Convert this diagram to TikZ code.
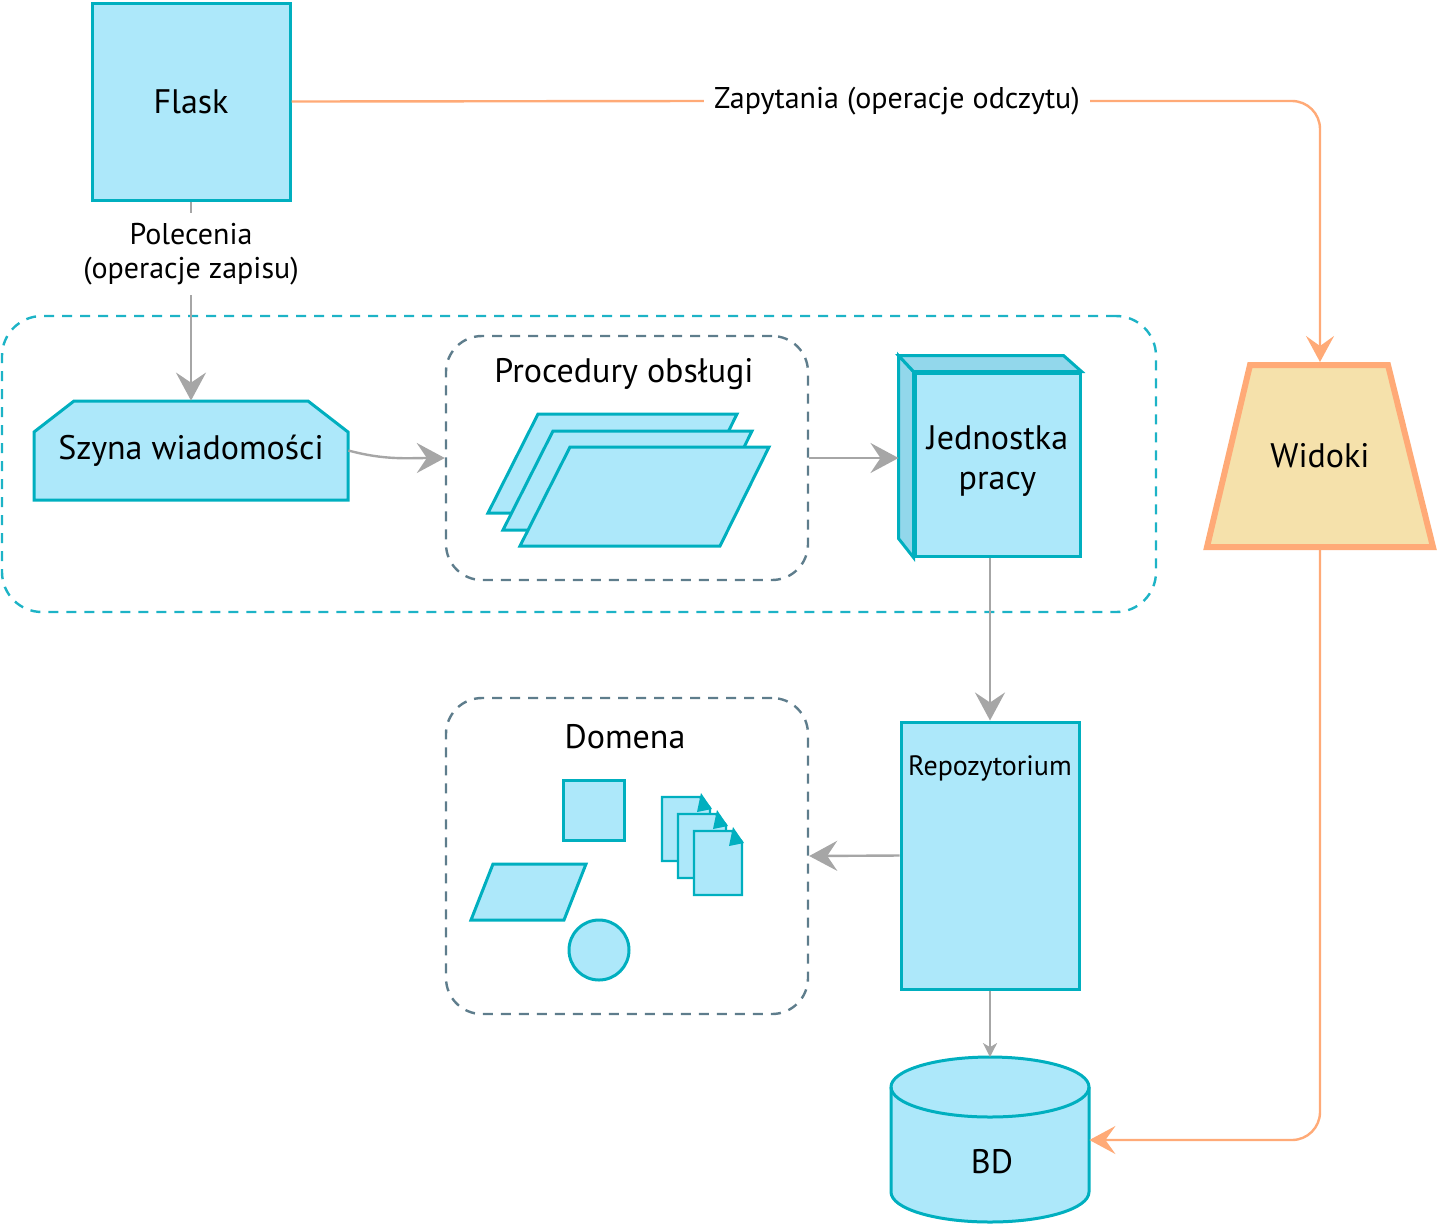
\documentclass[tikz,border=0pt]{standalone}
\usepackage{fontspec}
\setmainfont{PT Sans}
\usetikzlibrary{arrows.meta, positioning}

\definecolor{boxfill}{HTML}{ADE8FA}
\definecolor{boxline}{HTML}{00AFBF}
\definecolor{sidefill}{HTML}{92D7EB}
\definecolor{arrowgray}{HTML}{A6A6A6}
\definecolor{queryline}{HTML}{FFAA77}
\definecolor{viewfill}{HTML}{F5E1AB}
\definecolor{groupline}{HTML}{5E7D8C}
\definecolor{outerline}{HTML}{1DB3C6}

\tikzset{
  box/.style={draw=boxline, fill=boxfill, line width=1.5pt, inner sep=2pt,
    font=\fontsize{17}{20}\selectfont, align=center},
  link/.style={draw=arrowgray, line width=1.2pt},
  cmd/.style={link, -{Stealth[length=14pt, width=15pt, inset=5pt]}},
  smallcmd/.style={link, -{Stealth[length=7pt, width=7pt, inset=2pt]}},
  qry/.style={draw=queryline, line width=1.2pt, rounded corners=14pt,
    -{Stealth[length=13pt, width=14pt, inset=5pt]}},
  group/.style={draw=groupline, line width=1.2pt, dash pattern=on 5pt off 4pt,
    rounded corners=18pt, minimum width=181pt},
  lbl/.style={font=\fontsize{15}{17}\selectfont, align=center, inner sep=5pt, fill=white},
  title/.style={font=\fontsize{17}{20}\selectfont}
}

\begin{document}
\begin{tikzpicture}[x=0.5pt, y=-0.5pt]
\useasboundingbox (0,0) rectangle (1441,1228);

% dashed region around the write side
\node[draw=outerline, line width=1.2pt, dash pattern=on 5pt off 4pt, rounded corners=20pt,
  minimum width=577pt, minimum height=148pt] (core) at (579,464) {};

% top
\node[box, minimum width=99pt, minimum height=98.5pt] (flask) at (191,101.5) {Flask};

% message bus
\draw[box] (34,500) -- (34,432) -- (74,401) -- (308,401) -- (348,432) -- (348,500) -- cycle;
\node[minimum width=157pt, minimum height=49.5pt, font=\fontsize{17}{20}\selectfont] (bus) at (191,450.5) {Szyna wiadomości};

% handlers
\node[group, minimum height=122pt] (handlers) at (627,458) {};
\node[title] (handlerstitle) at (624,374) {Procedury obsługi};
\foreach \dx/\dy in {0/0, 15/17, 32/33}
  \draw[box] (538+\dx,414+\dy) -- (737+\dx,414+\dy) -- (688+\dx,513+\dy) -- (488+\dx,513+\dy) -- cycle;

% unit of work
\node[box, minimum width=82.5pt, minimum height=91.5pt] (uow) at (997.5,464.5) {Jednostka\\pracy\\[-13pt]};
\draw[box, fill=sidefill] (uow.north west) -- ++(-15,-16) -- ++(0,183) -- (uow.south west) -- cycle;
\draw[box, fill=sidefill] (uow.north west) -- ++(-15,-16) -- ++(165,0) -- (uow.north east) -- cycle;

% repository and database
\node[box, minimum width=89pt, minimum height=133.5pt,
  label={[font=\fontsize{14}{16}\selectfont, label distance=-34pt]north:Repozytorium}] (repo) at (990,855.5) {};
\node[minimum width=99pt, minimum height=82.5pt] (db) at (990,1140) {};
\draw[box] (891,1087) -- (891,1192) arc[start angle=180, end angle=360, x radius=49.5pt, y radius=15pt]
  -- (1089,1087) arc[start angle=0, end angle=180, x radius=49.5pt, y radius=15pt] -- cycle;
\draw[box, fill=none] (891,1087) arc[start angle=180, end angle=360, x radius=49.5pt, y radius=15pt];
\node[font=\fontsize{17}{20}\selectfont] (dbtext) at (992,1162) {BD};

% domain
\node[group, minimum height=158pt] (domain) at (627,856) {};
\node[title] (domaintitle) at (625,737) {Domena};
\draw[box] (563,780) rectangle (624,840);
\draw[box] (493,864) -- (586,864) -- (564,920) -- (471,920) -- cycle;
\draw[box] (599,950) circle[radius=15pt];
\foreach \dx/\dy in {0/0, 16/17, 32/34} {
  \draw[box, line width=1.2pt] (662+\dx,797+\dy) -- (700+\dx,797+\dy) -- (710+\dx,808+\dy)
    -- (710+\dx,861+\dy) -- (662+\dx,861+\dy) -- cycle;
  \fill[boxline] (697+\dx,812+\dy) -- (701+\dx,793+\dy) -- (712+\dx,809+\dy) -- cycle;
}

% views
\draw[draw=queryline, fill=viewfill, line width=3pt] (1207,547) -- (1250,365) -- (1388,365) -- (1433,547) -- cycle;
\node[minimum width=113pt, minimum height=91pt, outer sep=1.5pt,
  font=\fontsize{17}{20}\selectfont] (views) at (1320,456) {Widoki};

% commands
\node[lbl] (pol) at (191,254) {Polecenia\\(operacje zapisu)};
\draw[link] (flask.south) -- (pol.north);
\draw[cmd] (pol.south) -- (bus.north);
\draw[cmd] (bus.east) to[out=-15, in=180] (handlers.west);
\draw[cmd] (handlers.east) -- ([xshift=-7.5pt]uow.west |- handlers.east);
\draw[cmd] (uow.south -| repo.north) -- (repo.north);
\draw[cmd] (repo.west) -- (domain.east);
\draw[smallcmd] (repo.south) -- (db.north);

% queries
\node[lbl] (zap) at (897,101) {Zapytania (operacje odczytu)};
\draw[draw=queryline, line width=1.2pt] (flask.east) -- (zap.west);
\draw[qry] (zap.east) -| (views.north);
\draw[qry] (views.south) |- (db.east);

\end{tikzpicture}
\end{document}
